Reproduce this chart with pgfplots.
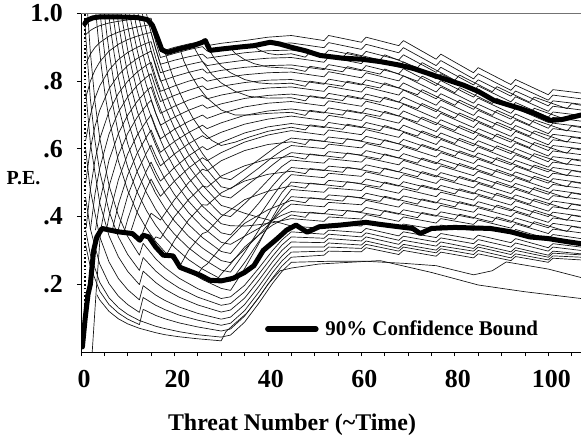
\documentclass[border=0pt]{standalone}
\usepackage{pgfplots}
\pgfplotsset{compat=1.18}
\usepackage{fontspec}
\setmainfont{Liberation Serif}
\pgfplotsset{thinl/.style={black!92, line width=0.68bp, forget plot, line join=round},
  thickl/.style={black, line width=5bp, line join=round, line cap=round}}
\begin{document}
\begin{tikzpicture}
\path[use as bounding box] (-81bp,-86bp) rectangle (500bp,352bp);
\begin{axis}[
  at={(0,0)}, anchor=south west,
  scale only axis, width=500bp, height=338.5bp,
  xmin=0, xmax=107, ymin=0, ymax=1,
  axis x line=bottom, axis y line=left,
  axis line style={-, black, line width=0.8bp},
  xtick={0,20,...,100}, minor xtick={5,10,...,105},
  ytick={0.2,0.4,0.6,0.8,1.0}, yticklabels={.2,.4,.6,.8,1.0},
  tick align=outside, major tick length=4bp, minor tick length=4bp,
  tick style={black, line width=0.8bp},
  /pgf/number format/assume math mode=true,
  ticklabel style={font=\fontsize{26}{28}\selectfont\bfseries},
  xticklabel style={anchor=north, inner sep=0pt, yshift=-14bp, xshift=3bp},
  yticklabel style={anchor=east, inner sep=0pt, xshift=-14bp},
  legend style={at={(axis cs:39.4,0.068)}, anchor=west, draw=none, fill=none,
    inner sep=0pt, outer sep=0pt, font=\fontsize{21}{24}\selectfont\bfseries,
    nodes={inner sep=0pt, outer sep=0pt}},
  legend image code/.code={\draw[black, line width=5.5bp] (0bp,0bp) -- (48bp,0bp); \path (55bp,0bp);},
]
\addplot[black, line width=2bp, dash pattern=on 1.6bp off 2.2bp, forget plot] coordinates {(0.85,0.05)(0.85,1)};
% ---------- ascending family ----------
\addplot[thinl] coordinates {(1,.9375)(2,.95)(3,.958)(4,.964)(6,.972)(8,.977)(10,.981)(12,.983)(14,.985)(15,.986)(16,.934)(17,.8875)(20,.90)(23,.91)(26,.918)(27,.905)(30,.912)(35,.92)(40,.93)(45,.935)(52,.920)(53,.935)(60,.915)(61,.930)(68,.905)(69,.920)(76,.865)(77,.880)(84,.825)(85,.840)(92,.790)(93,.805)(100,.760)(101,.775)(107,.765)};
\addplot[thinl] coordinates {(1,.85)(2,.88)(3,.90)(4,.914)(6,.933)(8,.945)(10,.954)(12,.96)(14,.965)(15,.967)(16,.916)(17,.87)(20,.882)(23,.893)(26,.902)(27,.889)(30,.896)(35,.905)(40,.91)(45,.913)(52,.899)(53,.914)(60,.894)(61,.909)(68,.884)(69,.899)(76,.846)(77,.861)(84,.807)(85,.822)(92,.773)(93,.788)(100,.744)(101,.759)(107,.748)};
\addplot[thinl] coordinates {(1,.75)(2,.80)(3,.833)(4,.857)(6,.889)(8,.909)(10,.923)(12,.933)(14,.941)(15,.944)(16,.895)(17,.85)(20,.862)(23,.872)(26,.88)(27,.868)(30,.874)(35,.884)(40,.89)(45,.892)(52,.877)(53,.892)(60,.873)(61,.888)(68,.863)(69,.878)(76,.826)(77,.841)(84,.789)(85,.804)(92,.756)(93,.771)(100,.727)(101,.742)(107,.732)};
\addplot[thinl] coordinates {(1,.625)(2,.70)(3,.75)(4,.786)(6,.833)(8,.864)(10,.885)(12,.90)(14,.912)(15,.917)(16,.868)(17,.825)(20,.838)(23,.849)(26,.858)(27,.846)(30,.853)(35,.862)(40,.868)(45,.870)(52,.856)(53,.871)(60,.852)(61,.867)(68,.842)(69,.857)(76,.807)(77,.822)(84,.771)(85,.786)(92,.739)(93,.754)(100,.711)(101,.726)(107,.715)};
\addplot[thinl] coordinates {(1,.50)(2,.60)(3,.667)(4,.714)(6,.778)(8,.818)(10,.846)(12,.867)(14,.882)(15,.889)(16,.842)(17,.80)(20,.814)(23,.826)(26,.836)(27,.824)(30,.832)(35,.841)(40,.846)(45,.848)(52,.834)(53,.849)(60,.831)(61,.846)(68,.822)(69,.837)(76,.787)(77,.802)(84,.753)(85,.768)(92,.722)(93,.737)(100,.694)(101,.709)(107,.699)};
\addplot[thinl] coordinates {(1.1,.366)(2,.48)(3,.567)(4,.629)(6,.711)(8,.764)(10,.80)(12,.827)(14,.847)(15,.856)(16,.811)(17,.77)(20,.786)(23,.80)(26,.811)(27,.80)(30,.809)(35,.819)(40,.825)(45,.827)(52,.813)(53,.828)(60,.810)(61,.825)(68,.801)(69,.816)(76,.768)(77,.783)(84,.735)(85,.750)(92,.705)(93,.720)(100,.678)(101,.693)(107,.682)};
\addplot[thinl] coordinates {(2,.36)(3,.467)(4,.543)(6,.644)(8,.709)(10,.754)(12,.787)(14,.812)(15,.822)(16,.779)(17,.74)(20,.758)(23,.773)(26,.786)(27,.775)(30,.785)(35,.796)(40,.803)(45,.805)(52,.791)(53,.806)(60,.789)(61,.804)(68,.780)(69,.795)(76,.748)(77,.763)(84,.717)(85,.732)(92,.688)(93,.703)(100,.661)(101,.676)(107,.666)};
\addplot[thinl] coordinates {(3.1,.36)(4,.443)(6,.567)(8,.645)(10,.70)(12,.74)(14,.771)(15,.783)(16,.742)(17,.705)(20,.726)(23,.744)(26,.758)(27,.748)(30,.759)(35,.772)(40,.780)(45,.783)(52,.770)(53,.785)(60,.768)(61,.783)(68,.759)(69,.774)(76,.729)(77,.744)(84,.699)(85,.714)(92,.671)(93,.686)(100,.645)(101,.660)(107,.649)};
\addplot[thinl] coordinates {(2.4,0)(3.2,.17)(4.2,.36)(6,.489)(8,.582)(10,.646)(12,.693)(14,.729)(15,.744)(16,.705)(17,.67)(20,.694)(23,.714)(26,.73)(27,.72)(30,.733)(35,.749)(40,.758)(45,.762)(52,.749)(53,.764)(60,.747)(61,.762)(68,.738)(69,.753)(76,.710)(77,.725)(84,.681)(85,.696)(92,.654)(93,.669)(100,.628)(101,.643)(107,.633)};
\addplot[thinl] coordinates {(5.4,.357)(6,.40)(8,.509)(10,.585)(12,.64)(14,.682)(15,.70)(16,.663)(17,.63)(20,.658)(23,.681)(26,.70)(27,.69)(30,.705)(35,.724)(40,.735)(45,.740)(52,.727)(53,.742)(60,.726)(61,.741)(68,.717)(69,.732)(76,.690)(77,.705)(84,.663)(85,.678)(92,.637)(93,.652)(100,.612)(101,.627)(107,.616)};
\addplot[thinl] coordinates {(6.7,.36)(8,.436)(10,.523)(12,.587)(14,.635)(15,.656)(16,.621)(17,.59)(20,.622)(23,.648)(26,.67)(27,.66)(30,.677)(35,.699)(40,.712)(45,.718)(52,.706)(53,.721)(60,.705)(61,.720)(68,.697)(69,.712)(76,.671)(77,.686)(84,.645)(85,.660)(92,.620)(93,.635)(100,.595)(101,.610)(107,.600)};
\addplot[thinl] coordinates {(7.9,.358)(10,.462)(12,.533)(14,.588)(15,.611)(16,.579)(17,.55)(20,.585)(23,.615)(26,.639)(27,.63)(30,.649)(35,.673)(40,.688)(45,.697)(52,.684)(53,.699)(60,.684)(61,.699)(68,.676)(69,.691)(76,.651)(77,.666)(84,.627)(85,.642)(92,.603)(93,.618)(100,.579)(101,.594)(107,.583)};
\addplot[thinl] coordinates {(9.3,.358)(10,.392)(12,.473)(14,.535)(15,.561)(16,.531)(17,.505)(20,.545)(23,.579)(26,.607)(27,.597)(30,.619)(35,.647)(40,.665)(45,.675)(52,.663)(53,.678)(60,.663)(61,.678)(68,.655)(69,.670)(76,.632)(77,.647)(84,.609)(85,.624)(92,.586)(93,.601)(100,.562)(101,.577)(107,.567)};
\addplot[thinl] coordinates {(10.75,.36)(12,.413)(14,.482)(15,.511)(16,.484)(17,.46)(20,.505)(23,.543)(26,.574)(27,.565)(30,.589)(35,.62)(40,.641)(45,.654)(52,.641)(53,.656)(60,.642)(61,.657)(68,.634)(69,.649)(76,.613)(77,.628)(84,.591)(85,.606)(92,.568)(93,.583)(100,.546)(101,.561)(107,.550)};
% extra ascending lines
\addplot[thinl] coordinates {(13,.345)(14,.38)(15,.41)(16,.40)(17,.39)(20,.45)(23,.50)(26,.54)(27,.535)(30,.565)(35,.595)(40,.613)(45,.621)(48,.613)(49,.628)(56,.615)(57,.63)(64,.612)(65,.627)(72,.598)(73,.613)(80,.579)(81,.594)(88,.559)(89,.574)(96,.537)(97,.552)(104,.521)(105,.536)(107,.531)};
\addplot[thinl] coordinates {(15.5,.33)(16,.34)(17,.335)(20,.40)(23,.45)(26,.49)(27,.487)(30,.52)(35,.55)(40,.57)(45,.578)(48,.570)(49,.585)(56,.573)(57,.588)(64,.570)(65,.585)(72,.558)(73,.573)(80,.542)(81,.557)(88,.524)(89,.539)(96,.504)(97,.519)(104,.488)(105,.503)(107,.498)};
\addplot[thinl] coordinates {(18,.28)(20,.33)(23,.39)(26,.435)(27,.434)(30,.47)(35,.505)(40,.525)(45,.534)(48,.527)(49,.542)(56,.531)(57,.546)(64,.528)(65,.543)(72,.518)(73,.533)(80,.504)(81,.519)(88,.489)(89,.504)(96,.471)(97,.486)(104,.455)(105,.47)(107,.465)};
\addplot[thinl] coordinates {(21,.25)(23,.30)(26,.35)(27,.355)(30,.40)(35,.45)(40,.475)(45,.491)(48,.484)(49,.499)(56,.488)(57,.503)(64,.487)(65,.502)(72,.478)(73,.493)(80,.467)(81,.482)(88,.454)(89,.469)(96,.437)(97,.452)(104,.422)(105,.437)(107,.432)};
\addplot[thinl] coordinates {(25,.23)(26,.25)(27,.26)(30,.31)(35,.38)(40,.42)(45,.448)(48,.441)(49,.456)(56,.446)(57,.461)(64,.445)(65,.460)(72,.437)(73,.452)(80,.429)(81,.444)(88,.419)(89,.434)(96,.404)(97,.419)(104,.389)(105,.404)(107,.399)};
\addplot[thinl] coordinates {(29,.213)(30,.23)(32,.26)(35,.31)(38,.345)(41,.375)(45,.405)(48,.398)(49,.413)(56,.403)(57,.418)(64,.403)(65,.418)(72,.397)(73,.412)(80,.392)(81,.407)(88,.384)(89,.399)(96,.370)(97,.385)(104,.356)(105,.371)(107,.366)};
% extra descending lines
\addplot[thinl] coordinates {(18,.885)(19,.84)(20,.80)(22,.74)(24,.69)(26,.65)(28,.625)(30,.61)(33,.62)(36,.635)(40,.652)(45,.664)(48,.656)(49,.671)(56,.658)(57,.673)(64,.654)(65,.669)(72,.638)(73,.653)(80,.616)(81,.631)(88,.594)(89,.609)(96,.571)(97,.586)(104,.554)(105,.569)(107,.564)};
\addplot[thinl] coordinates {(21.2,.895)(22,.86)(23,.83)(25,.785)(27,.75)(30,.715)(33,.70)(36,.70)(40,.705)(45,.708)(48,.699)(49,.714)(56,.70)(57,.715)(64,.696)(65,.711)(72,.679)(73,.694)(80,.654)(81,.669)(88,.629)(89,.644)(96,.604)(97,.619)(104,.587)(105,.602)(107,.597)};
\addplot[thinl] coordinates {(24,.905)(25,.88)(26,.858)(28,.82)(30,.795)(33,.77)(36,.755)(40,.75)(45,.751)(48,.742)(49,.757)(56,.743)(57,.758)(64,.738)(65,.753)(72,.719)(73,.734)(80,.691)(81,.706)(88,.664)(89,.679)(96,.638)(97,.653)(104,.62)(105,.635)(107,.63)};
\addplot[thinl] coordinates {(27.6,.89)(28.5,.868)(30,.845)(32,.825)(35,.805)(38,.795)(41,.792)(45,.794)(48,.785)(49,.80)(56,.785)(57,.80)(64,.78)(65,.795)(72,.76)(73,.775)(80,.729)(81,.744)(88,.699)(89,.714)(96,.671)(97,.686)(104,.653)(105,.668)(107,.663)};
\addplot[thinl] coordinates {(32,.898)(33,.882)(35,.864)(37,.852)(40,.842)(45,.838)(48,.829)(49,.844)(56,.828)(57,.843)(64,.821)(65,.836)(72,.80)(73,.815)(80,.766)(81,.781)(88,.734)(89,.749)(96,.705)(97,.72)(104,.686)(105,.701)(107,.696)};
\addplot[thinl] coordinates {(37,.905)(38,.893)(40,.882)(42,.878)(45,.881)(48,.871)(49,.886)(56,.87)(57,.885)(64,.863)(65,.878)(72,.84)(73,.855)(80,.803)(81,.818)(88,.769)(89,.784)(96,.738)(97,.753)(104,.719)(105,.734)(107,.729)};
% ---------- descending family ----------
\addplot[thinl] coordinates {(3.2,1)(3.7,.925)(4.4,.838)(5.2,.756)(6,.689)(8,.564)(10,.477)(12,.413)(14,.365)(16,.326)(18,.295)(20,.27)(23,.238)(26,.214)(30,.188)(32,.182)(35,.246)(38,.319)(41,.398)(43,.445)(45,.48)(52,.472)(53,.485)(60,.477)(61,.490)(68,.469)(69,.482)(76,.459)(77,.472)(84,.449)(85,.462)(92,.434)(93,.447)(100,.416)(101,.429)(107,.418)};
\addplot[thinl] coordinates {(4.1,1)(4.6,.934)(5.3,.855)(6,.789)(8,.645)(10,.546)(12,.473)(14,.418)(16,.374)(18,.338)(20,.309)(23,.273)(26,.245)(30,.215)(32,.209)(35,.264)(38,.325)(41,.391)(43,.43)(45,.459)(52,.451)(53,.464)(60,.456)(61,.469)(68,.448)(69,.461)(76,.440)(77,.453)(84,.431)(85,.444)(92,.417)(93,.430)(100,.400)(101,.413)(107,.401)};
\addplot[thinl] coordinates {(5,1)(5.5,.941)(6.2,.87)(7,.80)(8,.727)(10,.615)(12,.533)(14,.471)(16,.421)(18,.381)(20,.348)(23,.308)(26,.276)(30,.242)(32,.236)(35,.294)(38,.359)(41,.429)(43,.471)(45,.502)(52,.494)(53,.507)(60,.498)(61,.511)(68,.490)(69,.503)(76,.479)(77,.492)(84,.467)(85,.480)(92,.451)(93,.464)(100,.433)(101,.446)(107,.434)};
\addplot[thinl] coordinates {(5.9,1)(6.4,.947)(7.1,.881)(8,.809)(10,.685)(12,.593)(14,.524)(16,.468)(18,.424)(20,.387)(23,.342)(26,.307)(30,.27)(32,.264)(35,.303)(38,.345)(41,.39)(43,.417)(45,.437)(52,.429)(53,.442)(60,.435)(61,.448)(68,.428)(69,.441)(76,.420)(77,.433)(84,.413)(85,.426)(92,.400)(93,.413)(100,.383)(101,.396)(107,.385)};
\addplot[thinl] coordinates {(6.8,1)(7.3,.951)(8,.891)(9,.817)(10,.754)(12,.653)(14,.576)(16,.516)(18,.467)(20,.426)(23,.377)(26,.338)(30,.297)(32,.291)(35,.342)(38,.399)(41,.46)(43,.497)(45,.524)(52,.515)(53,.528)(60,.519)(61,.532)(68,.511)(69,.524)(76,.498)(77,.511)(84,.485)(85,.498)(92,.468)(93,.481)(100,.449)(101,.462)(107,.451)};
\addplot[thinl] coordinates {(7.7,1)(8.2,.955)(9,.892)(10,.823)(12,.713)(14,.629)(16,.563)(18,.51)(20,.465)(23,.412)(26,.369)(30,.324)(32,.318)(35,.342)(38,.365)(41,.39)(43,.404)(45,.415)(52,.408)(53,.421)(60,.414)(61,.427)(68,.407)(69,.420)(76,.401)(77,.414)(84,.395)(85,.408)(92,.383)(93,.396)(100,.367)(101,.380)(107,.368)};
\addplot[thinl] coordinates {(8.6,1)(9.1,.959)(10,.892)(11,.829)(12,.773)(14,.682)(16,.611)(18,.552)(20,.504)(23,.446)(26,.40)(30,.352)(32,.346)(35,.391)(38,.439)(41,.491)(43,.522)(45,.545)(52,.536)(53,.549)(60,.540)(61,.553)(68,.532)(69,.545)(76,.517)(77,.530)(84,.503)(85,.516)(92,.485)(93,.498)(100,.466)(101,.479)(107,.467)};
\addplot[thinl] coordinates {(9.5,1)(10,.962)(11,.893)(12,.833)(14,.735)(16,.658)(18,.595)(20,.543)(23,.481)(26,.431)(30,.379)(32,.373)(35,.372)(38,.376)(41,.382)(43,.388)(45,.394)(52,.386)(53,.399)(60,.393)(61,.406)(68,.386)(69,.399)(76,.381)(77,.394)(84,.377)(85,.390)(92,.366)(93,.379)(100,.350)(101,.363)(107,.352)};
\addplot[thinl] coordinates {(10.4,1)(10.9,.964)(12,.893)(13,.8375)(14,.788)(16,.705)(18,.638)(20,.583)(23,.515)(26,.462)(30,.406)(32,.40)(35,.438)(38,.478)(41,.522)(43,.548)(45,.567)(52,.558)(53,.571)(60,.561)(61,.574)(68,.553)(69,.566)(76,.537)(77,.550)(84,.521)(85,.534)(92,.502)(93,.515)(100,.482)(101,.495)(107,.484)};
\addplot[thinl] coordinates {(11.3,1)(11.8,.966)(13,.894)(14,.841)(16,.753)(18,.681)(20,.622)(23,.55)(26,.493)(30,.433)(32,.425)(35,.41)(38,.398)(41,.387)(43,.38)(45,.372)(52,.365)(53,.378)(60,.372)(61,.385)(68,.365)(69,.378)(76,.362)(77,.375)(84,.359)(85,.372)(92,.349)(93,.362)(100,.334)(101,.347)(107,.335)};
\addplot[thinl] coordinates {(12.2,1)(12.7,.968)(14,.894)(15,.844)(16,.80)(18,.724)(20,.661)(23,.585)(26,.524)(30,.461)(32,.455)(35,.487)(38,.519)(41,.553)(43,.574)(45,.589)(52,.579)(53,.592)(60,.582)(61,.595)(68,.573)(69,.586)(76,.556)(77,.569)(84,.539)(85,.552)(92,.519)(93,.532)(100,.499)(101,.512)(107,.500)};
\addplot[thinl] coordinates {(13.1,1)(13.6,.97)(15,.889)(16,.847)(17,.805)(18,.767)(20,.70)(23,.619)(26,.555)(30,.488)(32,.482)(35,.512)(38,.543)(41,.576)(43,.595)(45,.61)(52,.601)(53,.614)(60,.603)(61,.616)(68,.594)(69,.607)(76,.576)(77,.589)(84,.557)(85,.570)(92,.536)(93,.549)(100,.515)(101,.528)(107,.517)};
\addplot[thinl] coordinates {(14,1)(14.5,.971)(15,.944)(16,.895)(17,.85)(18,.81)(20,.739)(23,.654)(26,.586)(30,.515)(32,.509)(35,.538)(38,.568)(41,.599)(43,.618)(45,.632)(52,.622)(53,.635)(60,.624)(61,.637)(68,.615)(69,.628)(76,.595)(77,.608)(84,.575)(85,.588)(92,.553)(93,.566)(100,.532)(101,.545)(107,.533)};
% ---------- lower group ----------
\addplot[thinl] coordinates {(3.4,.169)(4,.154)(6,.12)(8,.098)(10,.083)(12.5,.07)(16,.057)(18,.051)(21,.045)(25,.039)(30,.033)(31,.06)(33,.085)(35.5,.115)(38,.16)(40,.2)(42.6,.24)(45,.248)(51,.26)(64,.27)(75,.235)(85,.198)(95,.178)(107,.158)};
\addplot[thinl] coordinates {(1,.36)(2,.288)(4,.206)(6,.16)(8,.131)(10,.111)(12.5,.093)(16,.076)(18,.069)(21,.06)(25,.051)(30,.044)(32,.05)(35,.088)(38,.143)(41,.203)(43,.238)(45,.265)(53,.268)(61,.268)(69,.262)(76,.255)(84,.228)(88,.24)(91,.266)(100,.245)(107,.22)};
\addplot[thinl] coordinates {(1,.315)(2,.252)(4,.18)(6,.14)(8,.115)(10,.097)(12.5,.081)(13.3,.126)(16,.108)(18,.098)(21,.086)(25,.074)(30,.062)(32,.068)(35,.106)(38,.16)(41,.219)(43,.254)(45,.28)(52,.286)(53,.298)(60,.296)(61,.308)(68,.288)(69,.30)(76,.283)(77,.295)(84,.278)(85,.29)(92,.27)(93,.282)(100,.265)(101,.277)(107,.272)};
\addplot[thinl] coordinates {(1,.455)(2,.364)(4,.26)(6,.202)(8,.165)(10,.14)(12.5,.117)(13.3,.161)(16,.138)(18,.125)(21,.109)(25,.094)(30,.079)(32,.085)(35,.122)(38,.176)(41,.235)(43,.269)(45,.295)(52,.298)(53,.31)(60,.306)(61,.318)(68,.298)(69,.31)(76,.293)(77,.305)(84,.288)(85,.30)(92,.278)(93,.29)(100,.272)(101,.284)(107,.28)};
\addplot[thinl] coordinates {(1,.598)(2,.478)(4,.341)(6,.266)(8,.217)(10,.184)(12.5,.154)(13.3,.196)(16,.168)(18,.152)(21,.133)(25,.114)(30,.097)(32,.103)(35,.14)(38,.193)(41,.25)(43,.284)(45,.31)(52,.31)(53,.322)(60,.316)(61,.328)(68,.306)(69,.318)(76,.301)(77,.313)(84,.298)(85,.31)(92,.288)(93,.30)(100,.28)(101,.292)(107,.287)};
\addplot[thinl] coordinates {(1,.773)(2,.618)(4,.441)(6,.343)(8,.281)(10,.238)(12.5,.199)(13.3,.239)(16,.205)(18,.185)(21,.162)(25,.139)(30,.118)(32,.124)(35,.159)(38,.211)(41,.267)(43,.30)(45,.325)(52,.323)(53,.335)(60,.328)(61,.34)(68,.318)(69,.33)(76,.313)(77,.325)(84,.306)(85,.318)(92,.296)(93,.308)(100,.286)(101,.298)(107,.29)};
\addplot[thinl] coordinates {(0.8,.98)(1,.935)(2,.748)(3,.623)(4,.534)(6,.416)(8,.34)(10,.288)(12.5,.241)(13.3,.279)(16,.239)(18,.216)(21,.189)(25,.162)(30,.138)(32,.143)(35,.178)(38,.229)(41,.283)(43,.316)(45,.34)(52,.336)(53,.348)(60,.34)(61,.352)(68,.33)(69,.342)(76,.325)(77,.337)(84,.32)(85,.332)(92,.31)(93,.322)(100,.298)(101,.31)(107,.30)};
\addplot[thinl] coordinates {(1.43,1)(2,.886)(3,.738)(4,.633)(6,.492)(8,.403)(10,.341)(12.5,.286)(13.3,.321)(16,.275)(18,.249)(21,.218)(25,.187)(30,.158)(32,.163)(35,.197)(38,.247)(41,.30)(43,.331)(45,.355)(52,.348)(53,.36)(60,.353)(61,.365)(68,.343)(69,.355)(76,.338)(77,.35)(84,.333)(85,.345)(92,.323)(93,.335)(100,.308)(101,.32)(107,.31)};
% ---------- 90% confidence bounds ----------
\addplot[thickl, forget plot] coordinates {(0.3,.015)(0.9,.10)(1.5,.17)(2,.20)(2.7,.30)(3.4,.34)(4.5,.365)(6.2,.36)(8,.355)(11,.35)(12.6,.33)(13.3,.345)(14.5,.34)(16,.31)(17.6,.286)(19.7,.284)(21.2,.25)(22.7,.242)(25.5,.227)(27.6,.212)(30,.21)(32.6,.218)(35,.235)(37,.255)(39,.30)(42,.335)(44,.36)(46,.375)(48.4,.354)(51,.37)(55.5,.375)(61,.383)(64,.377)(68,.37)(71,.365)(72.6,.35)(75,.365)(80,.368)(87.6,.365)(92,.355)(96,.34)(100,.335)(104,.326)(107,.32)};
\addplot[thickl] coordinates {(0.8,.97)(1.3,.98)(2.5,.987)(4,.99)(8,.99)(12,.988)(14.2,.982)(15.3,.965)(16.3,.93)(17.3,.893)(18.5,.885)(21.2,.896)(24,.905)(26,.915)(26.6,.92)(27.6,.891)(30,.895)(34,.901)(37,.905)(40.5,.915)(42.5,.91)(44.8,.901)(48,.89)(51.2,.876)(56,.868)(60,.865)(64,.858)(68,.848)(71.3,.837)(76,.815)(81.9,.788)(85,.77)(88.4,.743)(91,.732)(94.1,.719)(97,.705)(100.5,.684)(103,.687)(107,.70)};
\addlegendentry{90\% Confidence Bound}
\draw[black!55, line width=0.8bp] (rel axis cs:0,1) -- (rel axis cs:1,1);
\end{axis}
\node[anchor=base, font=\fontsize{24}{28}\selectfont\bfseries] at (211bp,-78bp) {Threat Number (\textasciitilde Time)};
\node[anchor=base, font=\fontsize{20}{24}\selectfont\bfseries] at (-57.5bp,167bp) {P.E.};
\end{tikzpicture}
\end{document}
